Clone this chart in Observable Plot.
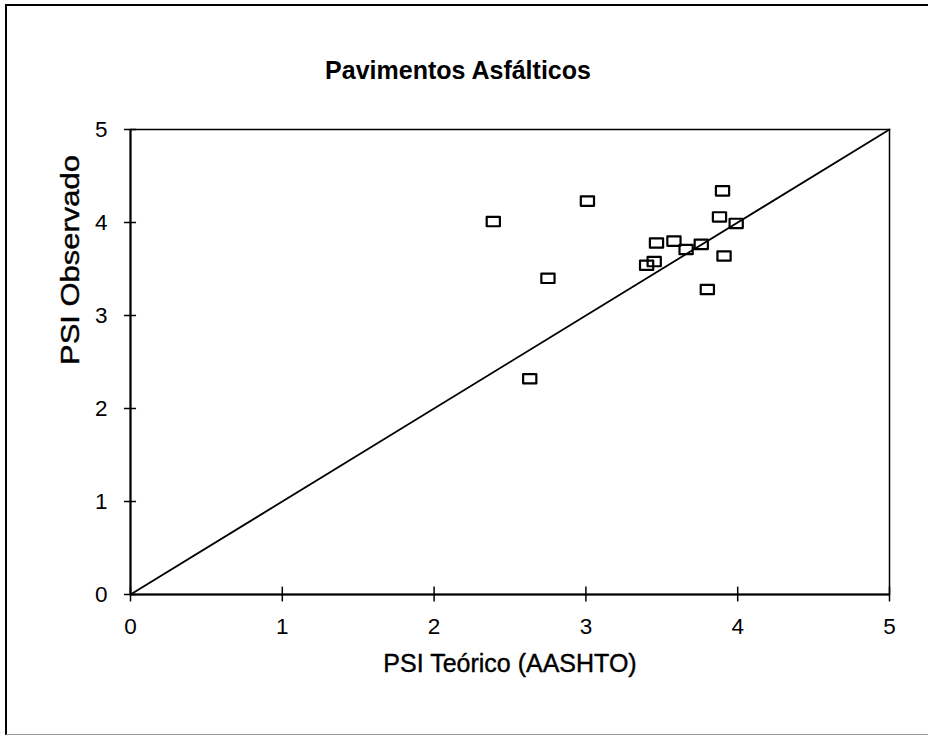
<!DOCTYPE html>
<html><head><meta charset="utf-8">
<script src="https://cdn.jsdelivr.net/npm/d3@7"></script>
<script src="https://cdn.jsdelivr.net/npm/@observablehq/plot@0.6"></script>
<style>
body{margin:0;background:#fff;}
#wrap{position:relative;width:928px;height:735px;overflow:hidden;background:#fff;}
#border{position:absolute;left:5px;top:4px;width:940px;height:728px;border-left:2px solid #000;border-top:2px solid #000;border-bottom:1px solid #999;pointer-events:none;}
#wrap svg{display:block;}
</style></head><body><div id="wrap"><div id="border"></div></div>
<script>
const title = "Pavimentos Asfálticos";
const xLabel = "PSI Teórico (AASHTO)";
const yLabel = "PSI Observado";
const psiTeorico   = [2.39, 3.01, 2.75, 2.63, 3.90, 3.88, 3.99, 3.465, 3.58, 3.66, 3.76, 3.91, 3.80, 3.40, 3.45];
const psiObservado = [4.01, 4.23, 3.40, 2.32, 4.34, 4.06, 3.99, 3.78, 3.80, 3.71, 3.765, 3.64, 3.28, 3.54, 3.58];
const xTicks = [0, 1, 2, 3, 4, 5];
const yTicks = [0, 1, 2, 3, 4, 5];
const diagonal = [0, 5];

const points = psiTeorico.map((x, i) => ({x, y: psiObservado[i]}));

const openBox = {
  draw(ctx, size) {
    const r = Math.sqrt(size / Math.PI);
    const w = r * 1.1, h = r * 0.78;
    ctx.moveTo(-w, -h); ctx.lineTo(w, -h); ctx.lineTo(w, h); ctx.lineTo(-w, h); ctx.closePath();
  }
};

const chart = Plot.plot({
  width: 928, height: 735,
  marginLeft: 130, marginRight: 39, marginTop: 129, marginBottom: 141,
  style: {fontFamily: "'Liberation Sans', Arial, sans-serif", background: "transparent", color: "#000"},
  x: {domain: [0, 5], axis: null},
  y: {domain: [0, 5], axis: null},
  marks: [
    Plot.frame({stroke: "#000", strokeWidth: 1.5}),
    Plot.ruleX([0], {stroke: "#000", strokeWidth: 2}),
    Plot.ruleY([0], {stroke: "#000", strokeWidth: 2}),
    Plot.ruleX(xTicks, {x: d => d, y1: -0.08, y2: 0.08, stroke: "#000", strokeWidth: 1.5}),
    Plot.ruleY(yTicks, {y: d => d, x1: -0.04, x2: 0.04, stroke: "#000", strokeWidth: 1.5}),
    Plot.line(diagonal, {x: d => d, y: d => d, stroke: "#000", strokeWidth: 1.8}),
    Plot.dot(points, {x: "x", y: "y", symbol: openBox, r: 6, stroke: "#000", fill: "none", strokeWidth: 2.2, strokeLinejoin: "round"}),
    Plot.text(xTicks, {x: d => d, text: d => String(d), frameAnchor: "bottom", dy: 39.5, fontSize: 22.5, fill: "#000"}),
    Plot.text(yTicks, {y: d => d, text: d => String(d), frameAnchor: "left", dx: -23, textAnchor: "end", fontSize: 22.5, fill: "#000"}),
    Plot.text([xLabel], {text: d => d, frameAnchor: "bottom", dy: 77, fontSize: 25, fill: "#000", stroke: "#000", strokeWidth: 0.4}),
    Plot.text([yLabel], {text: d => d, frameAnchor: "left", dx: -60, dy: 3, rotate: -90, fontSize: 25.5, fill: "#000", stroke: "#000", strokeWidth: 0.4}),
    Plot.text([title], {text: d => d, frameAnchor: "top", dx: -52, dy: -68, fontSize: 25, fontWeight: "bold", fill: "#000"})
  ]
});
document.getElementById("wrap").prepend(chart);
d3.select(chart).selectAll("text").filter(function() { return this.textContent === yLabel; })
  .attr("textLength", 210).attr("lengthAdjust", "spacingAndGlyphs");
</script>
</body></html>
